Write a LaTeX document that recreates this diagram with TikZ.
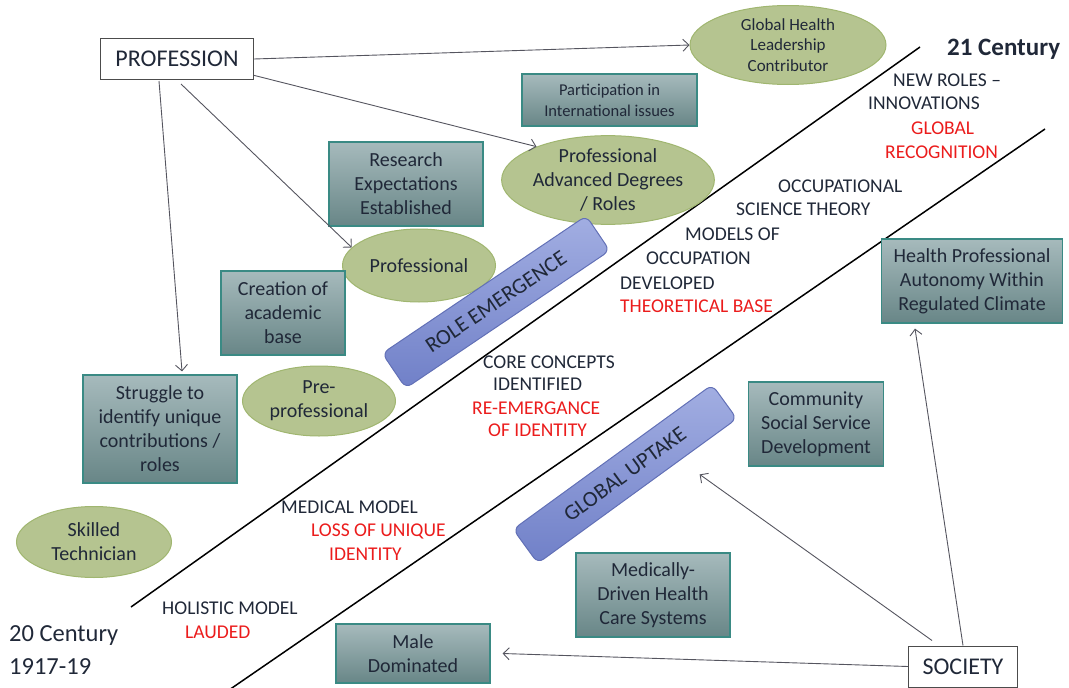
\documentclass[tikz,border=0pt]{standalone}
\usepackage{fontspec}
\setmainfont{Carlito}
\usepackage{tikz}
\usetikzlibrary{arrows.meta, positioning, shapes.geometric}
\definecolor{boxtop}{RGB}{166,186,188}
\definecolor{boxbot}{RGB}{104,134,135}
\definecolor{boxline}{RGB}{58,138,132}
\definecolor{ovalfill}{RGB}{181,196,144}
\definecolor{ovalline}{RGB}{160,182,112}
\definecolor{bartop}{RGB}{162,174,226}
\definecolor{barbot}{RGB}{112,128,200}
\definecolor{barline}{RGB}{98,112,182}
\definecolor{inktext}{RGB}{32,40,56}
\definecolor{myred}{RGB}{235,28,28}
\definecolor{arrowgray}{RGB}{85,85,95}
\newcommand{\fsz}[2]{\fontsize{#1}{#2}\selectfont}

\begin{document}
\begin{tikzpicture}[x=1pt,y=-1pt,
    greybox/.style={draw=boxline,line width=1.2pt,top color=boxtop,bottom color=boxbot,text=inktext,align=center,inner sep=0pt,font=\fsz{20}{24}},
    oval/.style={ellipse,draw=ovalline,line width=1pt,fill=ovalfill,text=inktext,align=center,inner sep=0pt,font=\fsz{20}{24}},
    bar/.style={rounded corners=7pt,draw=barline,line width=1pt,top color=bartop,bottom color=barbot,text=inktext,minimum width=246pt,minimum height=42pt,inner sep=0pt,font=\fsz{22}{24}},
    whitebox/.style={draw=black!70,line width=1pt,fill=white,text=inktext,inner sep=0pt,font=\fsz{24}{28}},
    lbl/.style={anchor=west,text=inktext,inner sep=0pt,font=\fsz{19.5}{24}},
    redlbl/.style={lbl,text=myred},
    link/.style={draw=arrowgray,line width=0.9pt,-{Straight Barb[length=6pt,width=12pt]}},
    era/.style={line width=1.5pt,black}]
    \useasboundingbox (0,0) rectangle (1069,688);

    % era lines
    \draw[era] (131,607) -- (920,47);
    \draw[era] (229,690) -- (1045,129);

    % profession side
    \node[whitebox,minimum width=153pt,minimum height=41pt] (prof) at (177,59) {PROFESSION};
    \node[oval,minimum width=196pt,minimum height=79pt,font=\fsz{17}{20.5}] (glob) at (788,45) {Global Health\\Leadership\\Contributor};
    \node[greybox,minimum width=175pt,minimum height=52pt,font=\fsz{16.5}{21}] (part) at (609.5,100) {Participation in\\International issues};
    \node[oval,minimum width=200pt,minimum height=86pt] (advdeg) at (608,180) {Professional\\Advanced Degrees\\/ Roles};
    \node[greybox,minimum width=154pt,minimum height=84pt] (research) at (406,184) {Research\\Expectations\\Established};
    \node[oval,minimum width=153pt,minimum height=73pt] (profl) at (419,265.5) {Professional};
    \node[greybox,minimum width=124pt,minimum height=84pt] (creation) at (283,313) {Creation of\\academic\\base};
    \node[oval,minimum width=153pt,minimum height=70pt] (preprof) at (319,401) {Pre-\\professional};
    \node[greybox,minimum width=154pt,minimum height=108pt] (struggle) at (160,429) {Struggle to\\identify unique\\contributions /\\roles};
    \node[oval,minimum width=155pt,minimum height=71pt] (skilled) at (94,542) {Skilled\\Technician};

    % bars
    \node[bar,rotate=34] (roleem) at (496,302) {ROLE EMERGENCE};
    \node[bar,rotate=36] (globup) at (625,474) {GLOBAL UPTAKE};

    % society side
    \node[greybox,minimum width=181pt,minimum height=84pt] (health) at (972,281) {Health Professional\\Autonomy Within\\Regulated Climate};
    \node[greybox,minimum width=135pt,minimum height=84pt] (community) at (816,424) {Community\\Social Service\\Development};
    \node[greybox,minimum width=154pt,minimum height=84pt] (medic) at (653,595) {Medically-\\Driven Health\\Care Systems};
    \node[greybox,minimum width=154pt,minimum height=59pt] (male) at (413,653.5) {Male\\Dominated};
    \node[whitebox,minimum width=109pt,minimum height=41pt] (society) at (963,666.5) {SOCIETY};

    % centuries
    \node[anchor=west,inner sep=0pt,text=inktext,font=\fsz{25}{28}\bfseries] (cent21) at (947,49) {21 Century};
    \node[anchor=west,inner sep=0pt,text=inktext,font=\fsz{24.5}{33},align=left] (cent20) at (9,650) {20 Century\\1917-19};

    % diagonal labels
    \node[lbl] (newroles) at (893,80) {NEW ROLES --};
    \node[lbl] (innov) at (868,103) {INNOVATIONS};
    \node[redlbl] (globrec) at (911,128) {GLOBAL};
    \node[redlbl] (recog) at (885,152) {RECOGNITION};
    \node[lbl] (occ) at (778,186) {OCCUPATIONAL};
    \node[lbl] (sci) at (736,209) {SCIENCE THEORY};
    \node[lbl] (models) at (685,234) {MODELS OF};
    \node[lbl] (occup) at (646,258) {OCCUPATION};
    \node[lbl] (devel) at (620,283) {DEVELOPED};
    \node[redlbl] (theo) at (620,306) {THEORETICAL BASE};
    \node[lbl] (core) at (483,362) {CORE CONCEPTS};
    \node[lbl] (ident) at (493,384) {IDENTIFIED};
    \node[redlbl] (reem) at (472,408) {RE-EMERGANCE};
    \node[redlbl] (ofid) at (488,430) {OF IDENTITY};
    \node[lbl] (medical) at (281,507) {MEDICAL MODEL};
    \node[redlbl] (loss) at (311,531) {LOSS OF UNIQUE};
    \node[redlbl] (identity) at (329,554) {IDENTITY};
    \node[lbl] (holistic) at (162,608) {HOLISTIC MODEL};
    \node[redlbl] (lauded) at (185,632) {LAUDED};

    % arrows
    \draw[link] (prof.east) -- (glob.west);
    \draw[link] (prof.-12) -- (advdeg.155);
    \draw[link] ([xshift=4pt,yshift=-4pt]prof.south) -- (profl.165);
    \draw[link] ([xshift=-18pt,yshift=-1pt]prof.south) -- ([xshift=22pt,yshift=3pt]struggle.north);
    \draw[link] (society.west) -- ([xshift=12pt]male.east);
    \draw[link] ([xshift=-31pt,yshift=5pt]society.north) -- ([xshift=62pt,yshift=17pt]globup.south);
    \draw[link] (society.north) -- ([xshift=-57pt,yshift=-5pt]health.south);
\end{tikzpicture}
\end{document}
